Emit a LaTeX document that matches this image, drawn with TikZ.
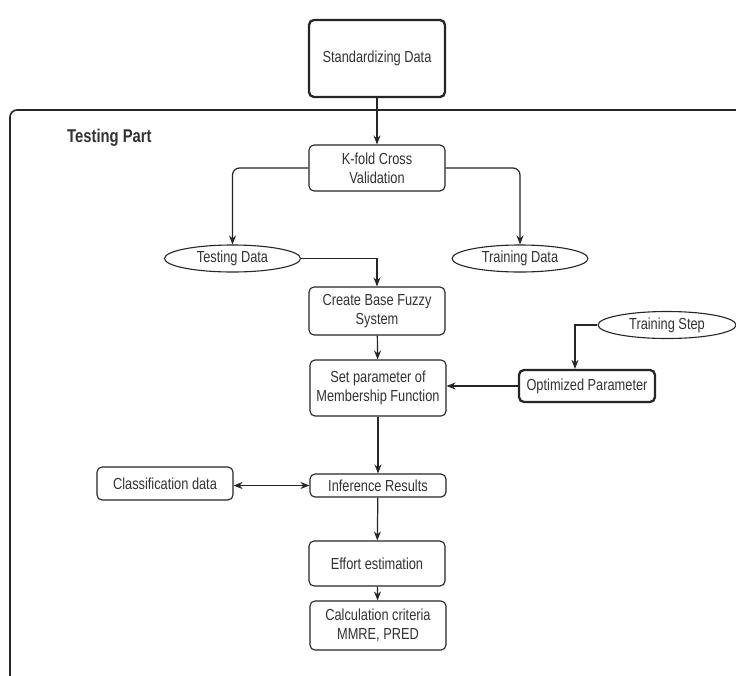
\documentclass[tikz,border=0pt]{standalone}
\usepackage{fontspec}
\setmainfont{Liberation Sans}[FakeStretch=0.8]
\usetikzlibrary{shapes.geometric,arrows.meta}
\begin{document}
\begin{tikzpicture}[x=1pt,y=-1pt,
  every node/.style={font=\fontsize{16}{19}\selectfont, text=black!80},
  stepbox/.style={draw=black!85, line width=1.1pt, rounded corners=5pt, minimum width=136pt, align=center, inner sep=1pt},
  boldbox/.style={stepbox, line width=2.3pt},
  oval/.style={draw=black!85, line width=1.1pt, ellipse, minimum width=136pt, minimum height=27pt, inner sep=0pt},
  arr/.style={draw=black!85, line width=1.2pt, -{Stealth[length=9pt,width=7pt]}},
  darr/.style={draw=black!85, line width=1.4pt, {Stealth[length=9pt,width=7pt]}-{Stealth[length=9pt,width=7pt]}}
]
\useasboundingbox (0,0) rectangle (736,675);
\clip (0,0) rectangle (736,675);
\fill[white] (0,0) rectangle (736,675);
% container
\draw[black!85, line width=1.6pt, rounded corners=7pt] (760,110) -- (10,110) -- (10,700);
\node[font=\fontsize{18.5}{22}\selectfont\bfseries, anchor=west, inner sep=0pt] (title) at (67,138) {Testing Part};

\node[boldbox, minimum height=77pt] (std) at (377,58.5) {Standardizing Data};
\node[stepbox, minimum height=46pt] (kfold) at (377,168) {K-fold Cross\\Validation};
\node[oval] (testd) at (232.5,258.5) {Testing Data};
\node[oval] (traind) at (520,258.5) {Training Data};
\node[stepbox, minimum height=48pt] (create) at (377,311) {Create Base Fuzzy\\System};
\node[oval, minimum width=138pt] (tstep) at (667,325) {Training Step};
\node[stepbox, minimum height=56pt] (setp) at (378,388) {Set parameter of\\Membership Function};
\node[boldbox, minimum height=32pt] (opt) at (587,386) {Optimized Parameter};
\node[stepbox, minimum height=23pt] (inf) at (378,485.5) {Inference Results};
\node[stepbox, minimum height=33pt] (cls) at (165,483.5) {Classification data};
\node[stepbox, minimum height=45pt] (eff) at (377,563.5) {Effort estimation};
\node[stepbox, minimum height=49pt] (calc) at (378,625.5) {Calculation criteria\\MMRE, PRED};

\draw[arr] (std) -- (kfold);
\draw[arr, rounded corners=7pt] (kfold.west) -| (testd.north);
\draw[arr, rounded corners=7pt] (kfold.east) -| (traind.north);
\draw[arr] (testd.east) -| (create.north);
\draw[arr] (create) -- (setp);
\draw[arr] (tstep.west) -| ([xshift=-12pt]opt.north);
\draw[arr] (opt.west) -- (opt.west -| setp.east);
\draw[arr] (setp) -- (inf);
\draw[darr] (cls.east |- inf.west) -- (inf.west);
\draw[arr] (inf) -- (eff);
\draw[arr] (eff) -- (calc);
\end{tikzpicture}
\end{document}
